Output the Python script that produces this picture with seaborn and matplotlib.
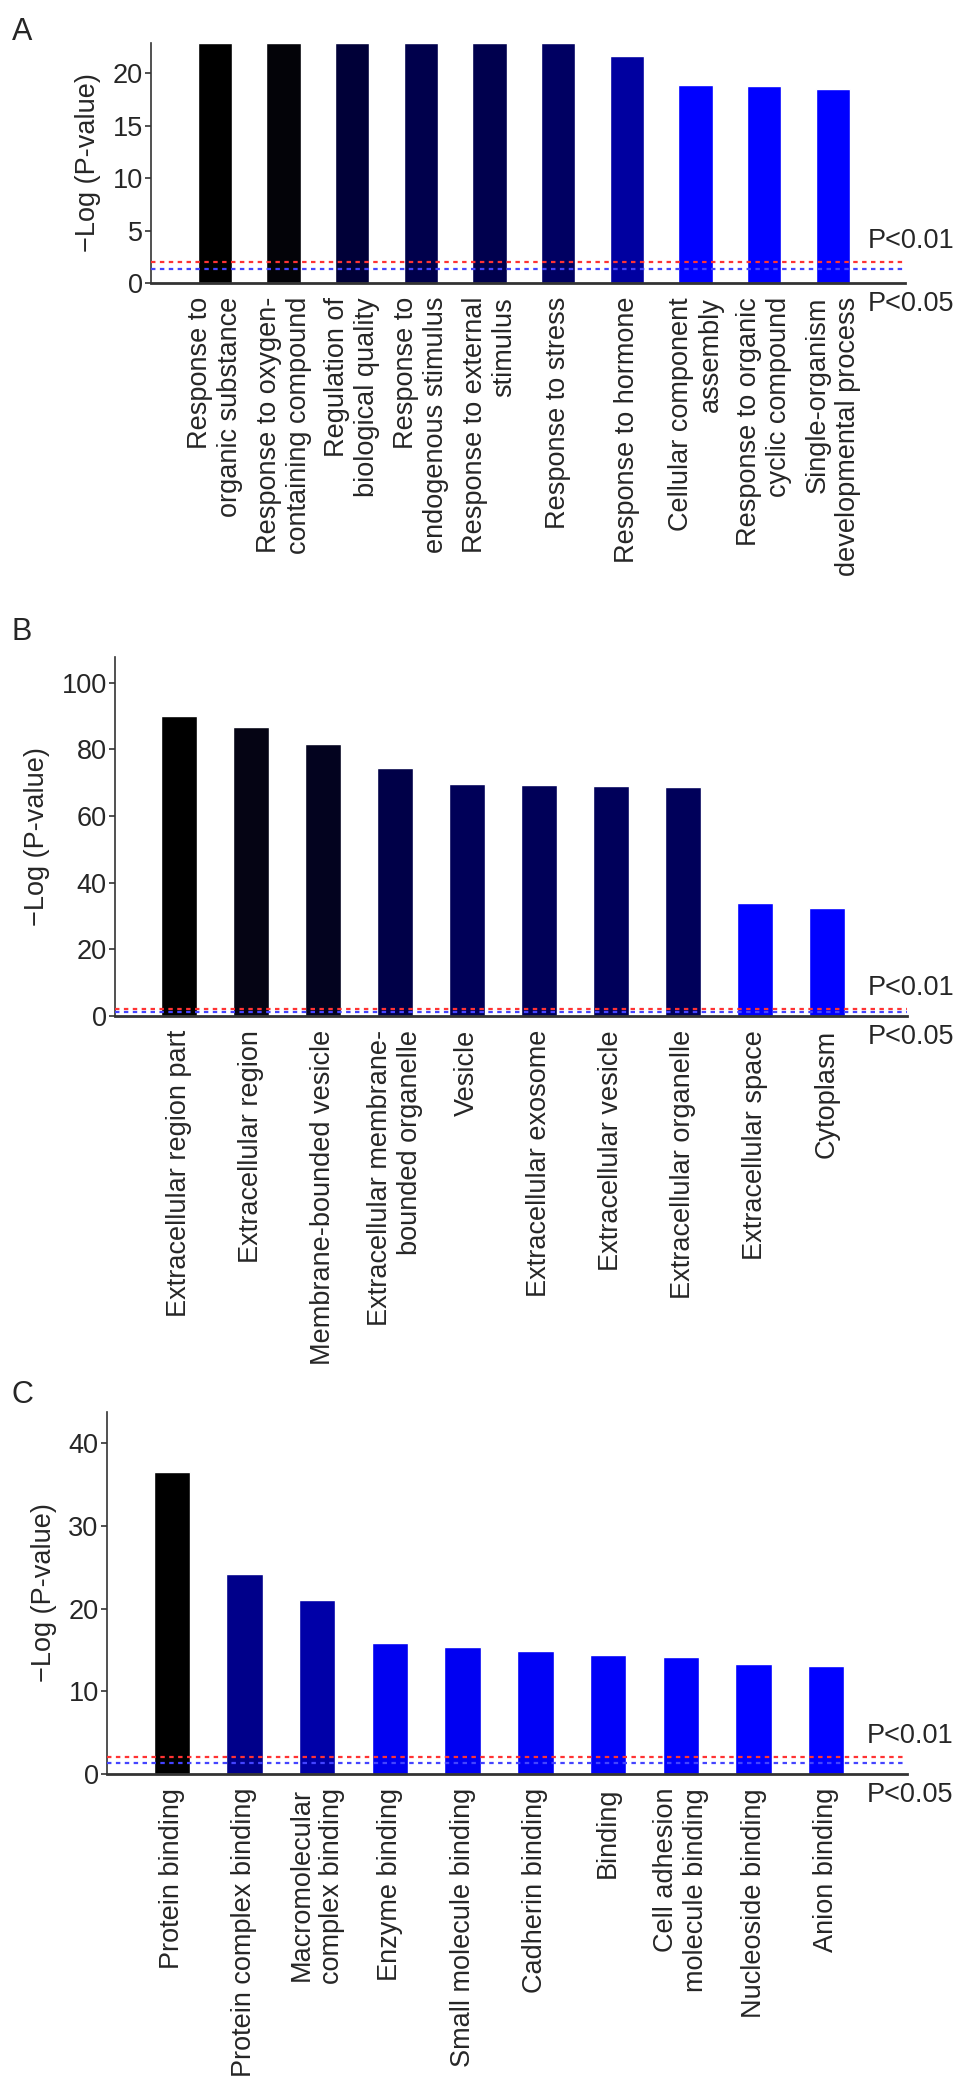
import numpy as np
import pandas as pd
import seaborn as sns
from matplotlib import pyplot as plt

# A - biological process
bp_terms = ['Response to\norganic substance', 'Response to oxygen-\ncontaining compound',
            'Regulation of\nbiological quality', 'Response to\nendogenous stimulus',
            'Response to external\nstimulus', 'Response to stress', 'Response to hormone',
            'Cellular component\nassembly', 'Response to organic\ncyclic compound',
            'Single-organism\ndevelopmental process']
bp_values = [22.9, 22.9, 22.9, 22.9, 22.9, 22.9, 21.7, 18.9, 18.8, 18.5]

# B - cellular component
cc_terms = ['Extracellular region part', 'Extracellular region', 'Membrane-bounded vesicle',
            'Extracellular membrane-\nbounded organelle', 'Vesicle', 'Extracellular exosome',
            'Extracellular vesicle', 'Extracellular organelle', 'Extracellular space', 'Cytoplasm']
cc_values = [90.0, 86.8, 81.6, 74.3, 69.6, 69.4, 68.9, 68.7, 33.8, 32.3]

# C - molecular function
mf_terms = ['Protein binding', 'Protein complex binding', 'Macromolecular\ncomplex binding',
            'Enzyme binding', 'Small molecule binding', 'Cadherin binding', 'Binding',
            'Cell adhesion\nmolecule binding', 'Nucleoside binding', 'Anion binding']
mf_values = [36.6, 24.2, 21.0, 15.8, 15.4, 14.9, 14.4, 14.1, 13.3, 13.1]

p_cutoffs = [0.01, 0.05]

bp_colors = ['#000000', '#030308', '#000038', '#00004c', '#00004e', '#000062',
             '#0000a0', '#0000ff', '#0000ff', '#0000ff']
cc_colors = ['#000000', '#050414', '#03031f', '#000048', '#000058', '#000058',
             '#00005a', '#00005a', '#0000ff', '#0000ff']
mf_colors = ['#000000', '#00008a', '#0000a8', '#0000f0', '#0000f2', '#0000f5',
             '#0000f8', '#0000fa', '#0000ff', '#0000ff']

sns.set_style('ticks')
plt.rcParams['font.family'] = ['Liberation Sans', 'DejaVu Sans']
plt.rcParams['font.size'] = 19.5

fig = plt.figure(figsize=(9.69, 20.89), dpi=100)
H = 2089

panels = [
    ('A', bp_terms, bp_values, bp_colors, [0.1558, 0.86453, 0.7782, 0.11489],
     (0, 22.9), [0, 5, 10, 15, 20], (-0.93, 10.05), 17),
    ('B', cc_terms, cc_values, cc_colors, [0.1187, 0.51364, 0.8173, 0.17186],
     (0, 107.7), [0, 20, 40, 60, 80, 100], (-0.89, 10.11), 617),
    ('C', mf_terms, mf_values, mf_colors, [0.1104, 0.15079, 0.8256, 0.17329],
     (0, 43.8), [0, 10, 20, 30, 40], (-0.89, 10.11), 1380),
]

for letter, terms, values, colors, pos, ylim, yticks, xlim, letter_y in panels:
    ax = fig.add_axes(pos)
    df = pd.DataFrame({'term': terms, 'value': values})
    sns.barplot(data=df, x='term', y='value', hue='term', palette=colors, legend=False,
                width=0.5, saturation=1, ax=ax)
    ax.set_xlim(*xlim)
    ax.set_ylim(*ylim)
    ax.set_yticks(yticks)
    ax.set_xticks(range(len(terms)))
    ax.set_xticklabels(terms, rotation=90, ha='center', va='top', multialignment='right')
    ax.tick_params(axis='x', length=0, pad=10)
    ax.tick_params(axis='y', length=4, width=1.2, pad=2, color='#333333')
    ax.set_xlabel('')
    ax.set_ylabel('\u2212Log (P-value)', labelpad=8)
    sns.despine(ax=ax)
    ax.spines['left'].set_color('#333333')
    ax.spines['left'].set_linewidth(1.2)
    ax.spines['bottom'].set_color('#333333')
    ax.spines['bottom'].set_linewidth(2)

    # significance cut-offs
    ax.axhline(-np.log10(p_cutoffs[0]), color='#ff3333', ls=(0, (2, 2)), lw=1.6, zorder=5)
    ax.axhline(-np.log10(p_cutoffs[1]), color='#4444ff', ls=(0, (2, 2)), lw=1.6, zorder=5)
    tr = ax.get_yaxis_transform()
    ax.annotate('P<0.01', xy=(0.95, -np.log10(p_cutoffs[0])), xycoords=tr,
                xytext=(0, 6), textcoords='offset points', ha='left', va='bottom',
                annotation_clip=False)
    ax.annotate('P<0.05', xy=(0.95, 0), xycoords=tr,
                xytext=(0, -6), textcoords='offset points', ha='left', va='top',
                annotation_clip=False)

    fig.text(0.012, 1 - letter_y / H, letter, fontsize=22, va='top', ha='left')

fig.savefig('out.png', dpi=100)
